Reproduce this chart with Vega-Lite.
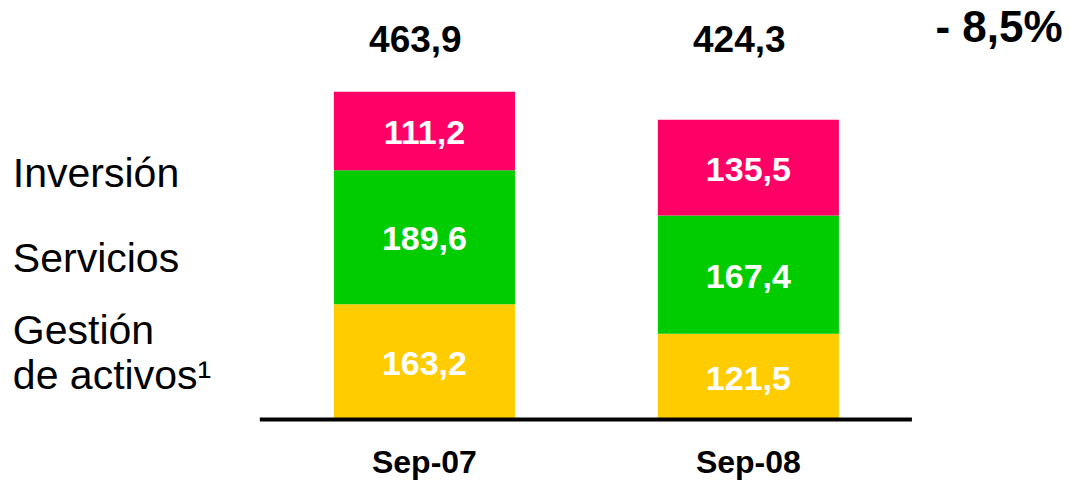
{
  "$schema": "https://vega.github.io/schema/vega-lite/v6.json",
  "width": 1070,
  "height": 482,
  "padding": 0,
  "autosize": {"type": "none"},
  "config": {
    "view": {"stroke": null},
    "font": "Liberation Sans",
    "locale": {"number": {"decimal": ",", "thousands": ".", "grouping": [3], "currency": ["", " €"]}}
  },
  "datasets": {
    "segments": [
      {"period": "Sep-07", "segment": "Gestión de activos¹", "value": 163.2, "stackOrder": 1},
      {"period": "Sep-07", "segment": "Servicios", "value": 189.6, "stackOrder": 2},
      {"period": "Sep-07", "segment": "Inversión", "value": 111.2, "stackOrder": 3},
      {"period": "Sep-08", "segment": "Gestión de activos¹", "value": 121.5, "stackOrder": 1},
      {"period": "Sep-08", "segment": "Servicios", "value": 167.4, "stackOrder": 2},
      {"period": "Sep-08", "segment": "Inversión", "value": 135.5, "stackOrder": 3}
    ],
    "totals": [
      {"period": "Sep-07", "total": 463.9},
      {"period": "Sep-08", "total": 424.3}
    ],
    "change": [{"label": "- 8,5%"}],
    "series": [
      {"segment": "Inversión", "label": "Inversión"},
      {"segment": "Servicios", "label": "Servicios"},
      {"segment": "Gestión de activos¹", "label": "Gestión\nde activos¹"}
    ]
  },
  "layer": [
    {
      "data": {"name": "segments"},
      "mark": {"type": "bar"},
      "encoding": {
        "x": {"field": "period", "type": "nominal", "scale": {"domain": ["Sep-07", "Sep-08"], "paddingInner": 0.441, "paddingOuter": 0.872, "align": 0.591}, "axis": null},
        "y": {"field": "value", "type": "quantitative", "stack": "zero", "scale": {"domain": [-88.5, 593.8], "nice": false, "zero": false}, "axis": null},
        "color": {"field": "segment", "type": "nominal", "scale": {"domain": ["Gestión de activos¹", "Servicios", "Inversión"], "range": ["#FFCC00", "#00CC00", "#FF0066"]}, "legend": null},
        "order": {"field": "stackOrder", "type": "quantitative"}
      }
    },
    {
      "data": {"name": "segments"},
      "mark": {"type": "text", "fontWeight": "bold", "fontSize": 34, "color": "#FFFFFF", "baseline": "middle", "align": "center", "dy": 3},
      "encoding": {
        "x": {"field": "period", "type": "nominal", "axis": null},
        "y": {"field": "value", "type": "quantitative", "stack": "zero", "bandPosition": 0.5, "axis": null},
        "detail": {"field": "segment", "type": "nominal"},
        "text": {"field": "value", "type": "quantitative", "format": ".1f"},
        "order": {"field": "stackOrder", "type": "quantitative"}
      }
    },
    {
      "data": {"name": "totals"},
      "mark": {"type": "text", "fontWeight": "bold", "fontSize": 37, "color": "#000000", "baseline": "alphabetic", "align": "center"},
      "encoding": {
        "x": {"field": "period", "type": "nominal", "bandPosition": 0.45, "axis": null},
        "y": {"datum": 520.6, "type": "quantitative"},
        "text": {"field": "total", "type": "quantitative", "format": ".1f"}
      }
    },
    {
      "data": {"name": "totals"},
      "mark": {"type": "text", "fontWeight": "bold", "fontSize": 32, "color": "#000000", "baseline": "alphabetic", "align": "center"},
      "encoding": {
        "x": {"field": "period", "type": "nominal", "axis": null},
        "y": {"datum": -76.4, "type": "quantitative"},
        "text": {"field": "period", "type": "nominal"}
      }
    },
    {
      "data": {"name": "totals"},
      "transform": [{"aggregate": [{"op": "count", "as": "n"}]}],
      "mark": {"type": "rule", "strokeWidth": 4, "color": "#000000"},
      "encoding": {
        "x": {"datum": "Sep-07", "type": "nominal", "bandPosition": -0.409},
        "x2": {"datum": "Sep-08", "bandPosition": 1.403},
        "y": {"datum": 0, "type": "quantitative"}
      }
    },
    {
      "data": {"name": "change"},
      "mark": {"type": "text", "fontWeight": "bold", "fontSize": 44, "color": "#000000", "baseline": "alphabetic", "align": "center"},
      "encoding": {
        "x": {"datum": "Sep-08", "type": "nominal", "bandPosition": 1.884},
        "y": {"datum": 534.7, "type": "quantitative"},
        "text": {"field": "label", "type": "nominal"}
      }
    },
    {
      "data": {"name": "series"},
      "transform": [{"filter": "datum.segment === 'Inversión'"}],
      "mark": {"type": "text", "fontSize": 41, "color": "#000000", "align": "left", "baseline": "middle"},
      "encoding": {
        "x": {"datum": "Sep-07", "type": "nominal", "bandPosition": -1.773},
        "y": {"datum": 345.7, "type": "quantitative"},
        "text": {"field": "label", "type": "nominal"}
      }
    },
    {
      "data": {"name": "series"},
      "transform": [{"filter": "datum.segment === 'Servicios'"}],
      "mark": {"type": "text", "fontSize": 41, "color": "#000000", "align": "left", "baseline": "middle"},
      "encoding": {
        "x": {"datum": "Sep-07", "type": "nominal", "bandPosition": -1.773},
        "y": {"datum": 225.2, "type": "quantitative"},
        "text": {"field": "label", "type": "nominal"}
      }
    },
    {
      "data": {"name": "series"},
      "transform": [{"filter": "datum.segment === 'Gestión de activos¹'"}],
      "mark": {"type": "text", "fontSize": 41, "color": "#000000", "align": "left", "baseline": "middle", "lineHeight": 45, "lineBreak": "\n"},
      "encoding": {
        "x": {"datum": "Sep-07", "type": "nominal", "bandPosition": -1.773},
        "y": {"datum": 124.3, "type": "quantitative"},
        "text": {"field": "label", "type": "nominal"}
      }
    }
  ]
}
